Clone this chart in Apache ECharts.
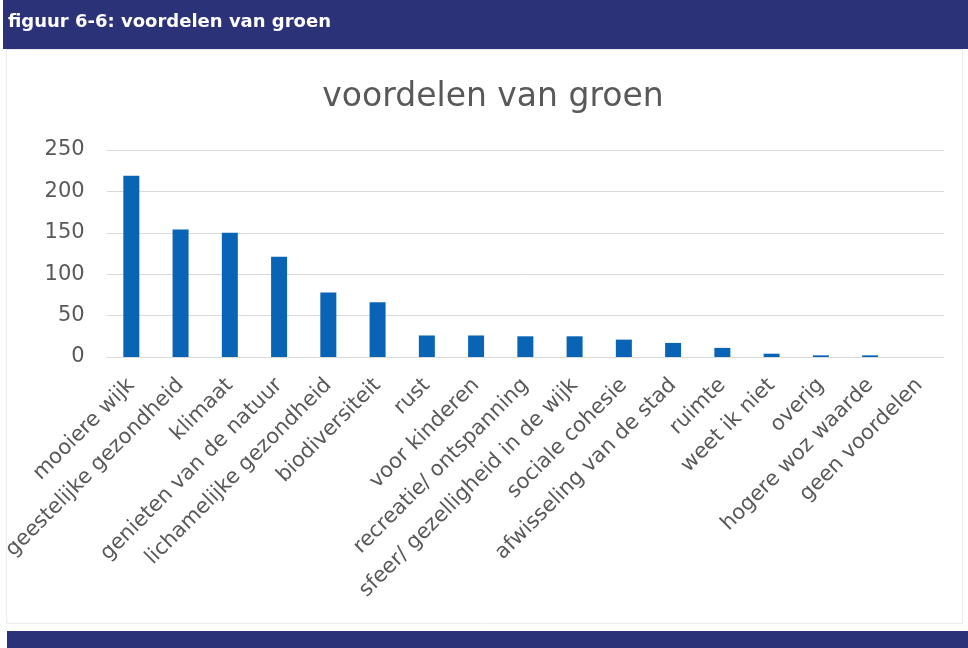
<!DOCTYPE html>
<html>
<head>
<meta charset="utf-8">
<title>voordelen van groen</title>
<script src="https://cdn.jsdelivr.net/npm/echarts@6/dist/echarts.min.js"></script>
<style>
  html, body { margin: 0; padding: 0; background: #ffffff; }
  #chart { width: 968px; height: 648px; }
</style>
</head>
<body>
<div id="chart"></div>
<script>
// Genoemde voordelen van groen (aantal respondenten)
const categories = [
  'mooiere wijk', 'geestelijke gezondheid', 'klimaat', 'genieten van de natuur',
  'lichamelijke gezondheid', 'biodiversiteit', 'rust', 'voor kinderen',
  'recreatie/ ontspanning', 'sfeer/ gezelligheid in de wijk', 'sociale cohesie',
  'afwisseling van de stad', 'ruimte', 'weet ik niet', 'overig',
  'hogere woz waarde', 'geen voordelen'
];
const counts = [219, 154, 150, 121, 78, 66, 26, 26, 25, 25, 21, 17, 11, 4, 2, 2, 0];
const yTicks = [0, 50, 100, 150, 200, 250];

const headerText = 'figuur 6-6: voordelen van groen';
const chartTitle = 'voordelen van groen';

const navy = '#2b3278';
const barBlue = '#0a64b5';
const textGrey = '#595959';
const gridGrey = '#d9d9d9';
const font = '"DejaVu Sans", Verdana, sans-serif';

const chart = echarts.init(document.getElementById('chart'), null, { renderer: 'canvas' });

chart.setOption({
  backgroundColor: '#ffffff',
  animation: false,
  title: {
    text: chartTitle,
    left: 488,
    textAlign: 'center',
    top: 76,
    textStyle: { fontFamily: font, fontSize: 33, fontWeight: 'normal', color: textGrey }
  },
  grid: { left: 105, right: 24, top: 150, bottom: 291, containLabel: false },
  xAxis: {
    type: 'category',
    data: categories,
    axisLine: { show: true, lineStyle: { color: gridGrey, width: 1 } },
    axisTick: { show: false },
    axisLabel: {
      interval: 0,
      rotate: 45,
      margin: 25,
      fontFamily: font,
      fontSize: 21,
      color: textGrey
    }
  },
  yAxis: {
    type: 'value',
    min: yTicks[0],
    max: yTicks[yTicks.length - 1],
    interval: yTicks[1] - yTicks[0],
    axisLine: { show: false },
    axisTick: { show: false },
    splitLine: { lineStyle: { color: gridGrey, width: 1 } },
    axisLabel: {
      margin: 22,
      fontFamily: font,
      fontSize: 21,
      color: textGrey
    }
  },
  series: [{
    type: 'bar',
    data: counts,
    barWidth: 16,
    itemStyle: { color: barBlue }
  }],
  graphic: [
    // kaderlijn rond het figuurvlak
    {
      type: 'rect',
      shape: { x: 6.5, y: 49.5, width: 956, height: 574 },
      style: { fill: 'none', stroke: '#ececec', lineWidth: 1 },
      silent: true, z: -1
    },
    // kopbalk
    {
      type: 'rect',
      shape: { x: 3, y: 0, width: 965, height: 49 },
      style: { fill: navy },
      silent: true
    },
    {
      type: 'text',
      left: 8,
      top: 13,
      style: {
        text: headerText,
        fill: '#ffffff',
        font: 'bold 18px ' + font
      },
      silent: true
    },
    // voetbalk
    {
      type: 'rect',
      shape: { x: 7, y: 631, width: 961, height: 17 },
      style: { fill: navy },
      silent: true
    }
  ]
});
</script>
</body>
</html>
